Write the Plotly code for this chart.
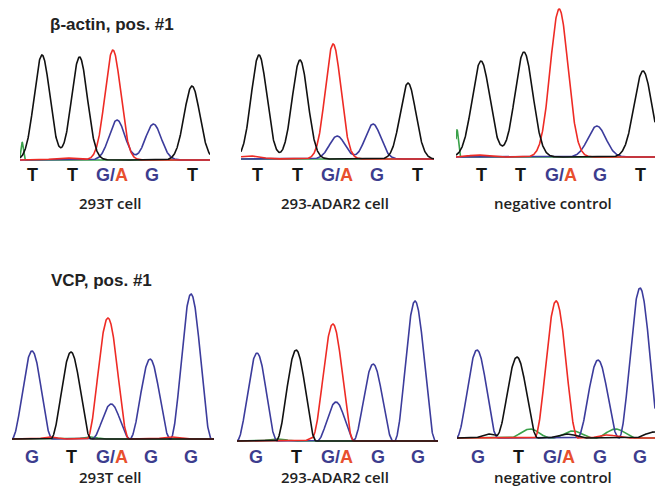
import numpy as np
import plotly.graph_objects as go

W, H = 655, 488

# ---------------- data ----------------
gene_titles = ["β-actin, pos. #1", "VCP, pos. #1"]
sample_titles = ["293T cell", "293-ADAR2 cell", "negative control"]
actin_calls = ["T", "T", "G/A", "G", "T"]
vcp_calls = ["G", "T", "G/A", "G", "G"]

# peaks: (channel, position in base-call index, peak height, peak width)
# β-actin traces: Gaussian-like peaks (width = sigma)
actin_293t_peaks = [("T", 0.0, 105, 0.21), ("T", 1.0, 103, 0.21), ("A", 1.89, 110, 0.21),
                    ("G", 2.0, 40, 0.21), ("G", 2.97, 36, 0.21), ("T", 4.0, 74, 0.21),
                    ("C", -0.53, 18, 0.03), ("A", 0.6, 2, 0.3)]
actin_adar2_peaks = [("T", 0.0, 104, 0.21), ("T", 1.1, 99, 0.21), ("A", 1.99, 115, 0.21),
                     ("G", 2.1, 23, 0.21), ("G", 3.06, 35, 0.21), ("T", 4.0, 76, 0.21),
                     ("A", -0.25, 3, 0.3)]
actin_neg_peaks = [("T", 0.0, 96, 0.22), ("T", 1.06, 105, 0.22), ("A", 1.93, 148, 0.22),
                   ("G", 2.86, 31, 0.22), ("T", 4.0, 86, 0.22),
                   ("C", -0.59, 27, 0.03), ("A", -0.1, 2, 0.2)]
# VCP traces: sharper, triangular-ish peaks (width = half base width)
vcp_293t_peaks = [("G", 0.0, 88, 0.51), ("T", 0.98, 87, 0.51), ("A", 1.91, 121, 0.53),
                  ("G", 1.99, 35, 0.48), ("G", 2.97, 80, 0.51), ("G", 4.0, 145, 0.52),
                  ("A", 0.45, 2, 0.4), ("C", 1.45, 2, 0.4), ("A", 3.5, 2, 0.5)]
vcp_adar2_peaks = [("G", 0.0, 88, 0.51), ("T", 0.99, 91, 0.51), ("A", 1.92, 117, 0.53),
                   ("G", 2.0, 39, 0.48), ("G", 2.94, 77, 0.51), ("G", 4.0, 140, 0.52),
                   ("A", 1.45, 3, 0.3), ("C", 0.5, 2, 0.5)]
vcp_neg_peaks = [("G", 0.0, 88, 0.51), ("T", 0.98, 81, 0.51), ("A", 1.94, 137, 0.53),
                 ("G", 2.97, 78, 0.51), ("G", 4.0, 150, 0.52),
                 ("C", 1.3, 9, 0.5), ("C", 2.35, 7, 0.5), ("C", 3.4, 9, 0.5),
                 ("T", 0.3, 4, 0.4), ("T", 2.2, 4, 0.5), ("T", 4.35, 6, 0.5), ("A", 3.2, 3, 0.5)]

panel_peaks = [actin_293t_peaks, actin_adar2_peaks, actin_neg_peaks,
               vcp_293t_peaks, vcp_adar2_peaks, vcp_neg_peaks]
panel_calls = [actin_calls] * 3 + [vcp_calls] * 3
panel_shape = ["gauss"] * 3 + ["hann"] * 3

# ---------------- layout (pixels) ----------------
# left, right, top, baseline, x of index 0, px per base
panel_geom = [
    (20, 210, 5, 160, 42, 37.5),
    (241, 434, 5, 159, 259, 37.25),
    (456, 655, 5, 157, 481, 40.5),
    (12, 214, 280, 439, 32, 39.75),
    (237, 438, 280, 441, 257, 39.5),
    (457, 655, 280, 438, 477, 40.75),
]
# label row: y, first label x, step; subtitle: y, center x
label_geom = [(175, 32, 40), (175, 257, 40), (175, 481, 39.75),
              (457, 32, 39.75), (457, 256, 40.5), (457, 478, 40.5)]
sub_geom = [(203, 111), (203, 335), (203, 553), (477, 110), (477, 335), (477, 553)]

COLORS = {"C": "#3aa14a", "G": "#3c3c9c", "A": "#ee2b25", "T": "#111111"}
CALL_COLORS = {"T": "#161616", "G": "#3d3d8e", "A": "#e8502e"}


def peak_shape(xs, pos, h, w, kind):
    d = xs - pos
    if kind == "gauss":
        return h * np.exp(-0.5 * (d / w) ** 2)
    out = h * np.cos(np.pi * d / (2 * w)) ** 2
    return np.where(np.abs(d) < w, out, 0.0)


fig = go.Figure()
layout = dict(width=W, height=H, margin=dict(l=0, r=0, t=0, b=0),
              paper_bgcolor="white", plot_bgcolor="white", showlegend=False)
annotations = []

PAD = 4
for i, (peaks, geom) in enumerate(zip(panel_peaks, panel_geom)):
    left, right, top, base, x0, step = geom
    n = i + 1
    xa = "x" if n == 1 else f"x{n}"
    ya = "y" if n == 1 else f"y{n}"
    xmin = (left - x0) / step
    xmax = (right - x0) / step
    xs = np.linspace(xmin, xmax, 800)
    for ch in ["C", "G", "A", "T"]:
        ys = np.zeros_like(xs)
        for c, pos, h, w in peaks:
            if c == ch:
                ys += peak_shape(xs, pos, h, w, panel_shape[i])
        fig.add_trace(go.Scatter(x=xs, y=ys, mode="lines", xaxis=xa, yaxis=ya,
                                 line=dict(color=COLORS[ch], width=1.6),
                                 hoverinfo="skip"))
    layout[f"xaxis{'' if n == 1 else n}"] = dict(
        domain=[left / W, right / W], range=[xmin, xmax], visible=False,
        fixedrange=True)
    layout[f"yaxis{'' if n == 1 else n}"] = dict(
        domain=[1 - (base + PAD) / H, 1 - top / H], range=[-PAD, base - top],
        visible=False, fixedrange=True)

    # base-call labels
    ly, lx0, lstep = label_geom[i]
    for k, call in enumerate(panel_calls[i]):
        if call == "G/A":
            txt = (f'<span style="color:{CALL_COLORS["G"]}">G/</span>'
                   f'<span style="color:{CALL_COLORS["A"]}">A</span>')
        else:
            txt = f'<span style="color:{CALL_COLORS[call]}">{call}</span>'
        annotations.append(dict(
            x=(lx0 + k * lstep) / W, y=1 - ly / H, xref="paper", yref="paper",
            text=txt, showarrow=False, xanchor="center", yanchor="middle",
            font=dict(family="Liberation Sans, Arial", size=18, weight="bold")))
    sy, sx = sub_geom[i]
    annotations.append(dict(
        x=sx / W, y=1 - sy / H, xref="paper", yref="paper",
        text=sample_titles[i % 3], showarrow=False, xanchor="center", yanchor="middle",
        font=dict(family="Open Sans", size=15, color="#222222", weight=600)))

for (gy, gx), t in zip([(24, 48), (280, 49)], gene_titles):
    annotations.append(dict(
        x=gx / W, y=1 - gy / H, xref="paper", yref="paper", text=t,
        showarrow=False, xanchor="left", yanchor="middle",
        font=dict(family="Liberation Sans, Arial", size=17, color="#222222", weight="bold")))

layout["annotations"] = annotations
fig.update_layout(**layout)
fig.write_html("out.html", config={"displayModeBar": False},
               post_script="document.body.style.margin='0';document.body.style.overflow='hidden';")
